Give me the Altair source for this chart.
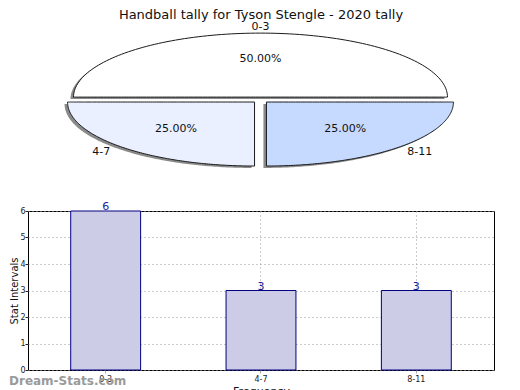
import altair as alt
import numpy as np
import pandas as pd

# ---- data ----
categories = ["0-3", "4-7", "8-11"]
counts = [6, 3, 3]
slice_colors = ["#FFFFFF", "#EAF0FF", "#C6D9FF"]
title_text = "Handball tally for Tyson Stengle - 2020 tally"
watermark = ["Dream-Stats.com"]

# ---- pie geometry derived from the data (unit ellipse, scales give the aspect) ----
total = sum(counts)
fracs = [c / total for c in counts]
explode = 0.045
rows, labels = [], []
start = 0.0
for cat, f in zip(categories, fracs):
    a0 = 2 * np.pi * start
    a1 = 2 * np.pi * (start + f)
    mid = (a0 + a1) / 2
    ex, ey = explode * np.cos(mid), explode * np.sin(mid)
    for t in np.linspace(a0, a1, 121):
        rows.append(dict(cat=cat, x=np.cos(t) + ex, y=np.sin(t) + ey, y2=ey))
    labels.append(dict(cat=cat, pct=f"{f * 100:.2f}%",
                       px=0.595 * np.cos(mid) + ex, py=0.59 * np.sin(mid) + ey,
                       lx=1.16 * np.cos(mid) + ex, ly=1.10 * np.sin(mid) + ey))
    start += f

pie_df = pd.DataFrame(rows)
lab_df = pd.DataFrame(labels)

xs = alt.Scale(domain=[-1.2433, 1.2487], nice=False, zero=False)
ys = alt.Scale(domain=[-1.094, 1.281], nice=False, zero=False)

shadow = alt.Chart(pie_df).transform_calculate(
    sx="datum.x - 0.016", sy="datum.y - 0.03", sy2="datum.y2 - 0.03"
).mark_area(color="#8a8a8a").encode(
    x=alt.X("sx:Q", scale=xs, axis=None),
    y=alt.Y("sy:Q", scale=ys, axis=None, stack=None),
    y2="sy2:Q",
    detail="cat:N",
)

slices = alt.Chart(pie_df).mark_area(stroke="#1a1a1a", strokeWidth=1).encode(
    x=alt.X("x:Q", scale=xs, axis=None),
    y=alt.Y("y:Q", scale=ys, axis=None, stack=None),
    y2="y2:Q",
    color=alt.Color("cat:N", scale=alt.Scale(domain=categories, range=slice_colors), legend=None),
)

pct_text = alt.Chart(lab_df).mark_text(fontSize=11, color="#111").encode(
    x=alt.X("px:Q", scale=xs, axis=None),
    y=alt.Y("py:Q", scale=ys, axis=None),
    text="pct:N",
)
cat_text = alt.Chart(lab_df).mark_text(fontSize=11, color="#111").encode(
    x=alt.X("lx:Q", scale=xs, axis=None),
    y=alt.Y("ly:Q", scale=ys, axis=None),
    text="cat:N",
)

pie = alt.layer(shadow, slices, pct_text, cat_text).properties(
    width=466, height=152,
    title=alt.TitleParams(title_text, fontSize=13, fontWeight="normal", anchor="middle", offset=-3.5, color="#111"),
    view=alt.ViewConfig(stroke="transparent"),
)

# ---- bar chart ----
bar_df = pd.DataFrame({"cat": categories, "count": counts})
wm_df = pd.DataFrame({"t": watermark})

xenc = alt.X("cat:N", sort=categories, title="Frequency",
             scale=alt.Scale(paddingInner=0.55, paddingOuter=0.275),
             axis=alt.Axis(labelAngle=0, bandPosition=0.5, grid=True, gridDash=[1, 3],
                           gridColor="#999999", labelFontSize=8, labelColor="#222",
                           tickColor="#aaaaaa", tickSize=3, domain=False,
                           titleFontSize=11, titleFontWeight="normal", titleColor="#111",
                           labelPadding=2, titlePadding=2))
yenc = alt.Y("count:Q", title="Stat Intervals",
             scale=alt.Scale(domain=[0, 6], nice=False),
             axis=alt.Axis(values=[0, 1, 2, 3, 4, 5, 6], grid=True, gridDash=[1, 3],
                           gridColor="#999999", labelFontSize=8, labelColor="#222",
                           tickColor="#222", tickSize=3, domain=False, labelOverlap=False,
                           titleFontSize=10, titleFontWeight="normal", titleColor="#111",
                           labelPadding=0, titlePadding=0))

bars = alt.Chart(bar_df).mark_bar(fill="#CCCCE6", stroke="#000080", strokeWidth=1).encode(
    x=xenc, y=yenc)
bar_labels = alt.Chart(bar_df).mark_text(baseline="bottom", fontSize=11, color="#1a1aa0", dy=1).encode(
    x=xenc, y=yenc, text="count:Q")
wm = alt.Chart(wm_df).mark_text(align="left", baseline="middle", fontSize=12, fontWeight="bold",
                                color="#9a9a9a").encode(
    x=alt.value(-19), y=alt.value(170), text="t:N")

bar = alt.layer(bars, bar_labels, wm).properties(
    width=466, height=159,
    view=alt.ViewConfig(stroke="black", strokeWidth=1),
)

chart = alt.vconcat(pie, bar, spacing=29).properties(
    padding={"left": 0, "top": 0, "right": 0, "bottom": 0}
).configure(font="DejaVu Sans").configure_view(stroke="black")

chart.save("out.html", embed_options={"renderer": "svg", "actions": False})
